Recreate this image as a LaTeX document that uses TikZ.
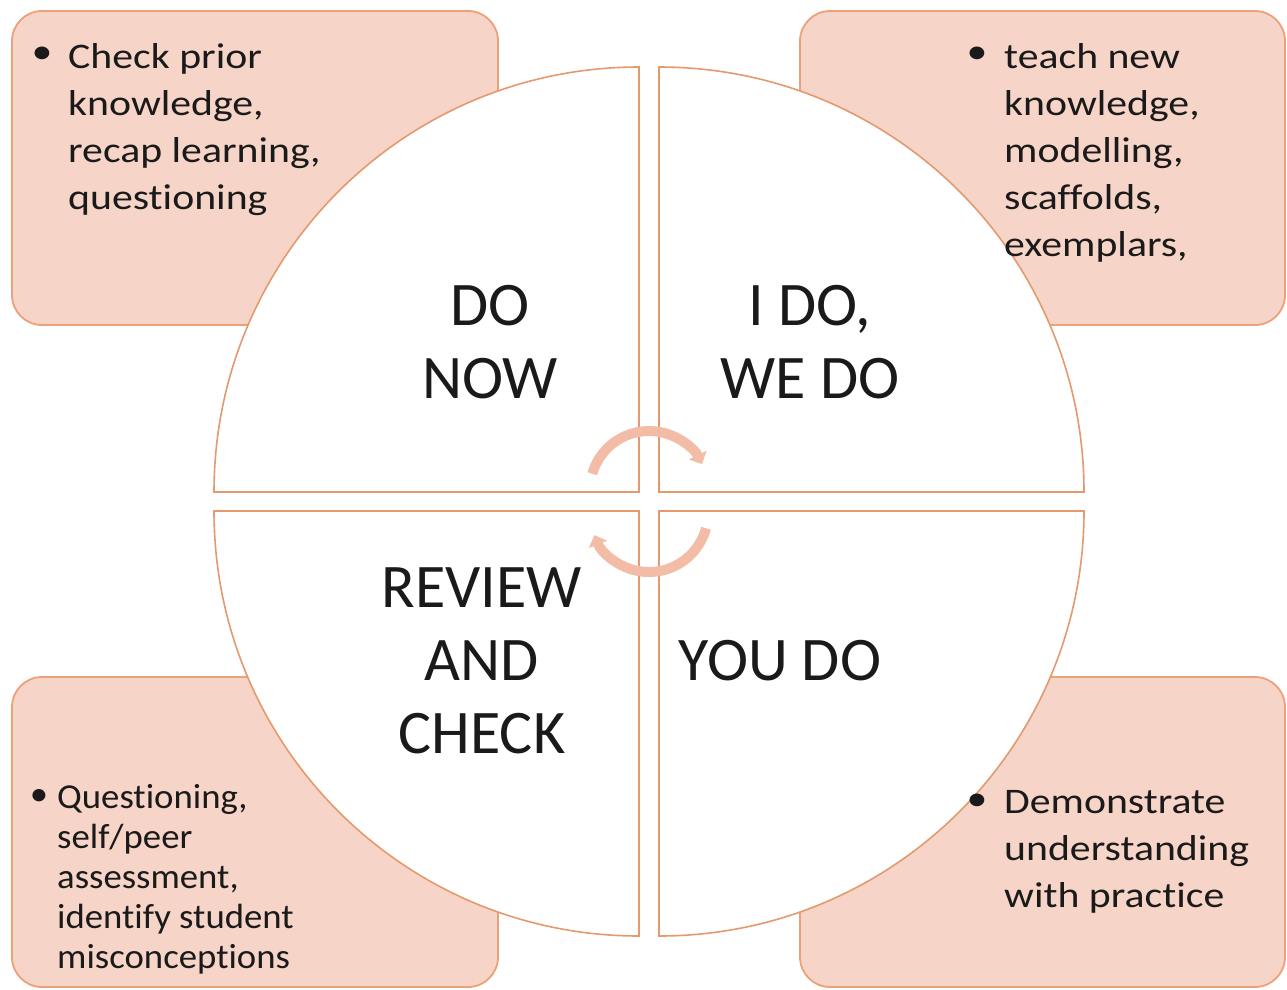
\documentclass[tikz,border=0pt]{standalone}
\usepackage{fontspec}
\setmainfont[Ligatures=NoCommon]{Carlito}
\newfontfamily\boxfont[FakeStretch=1.16, Ligatures=NoCommon]{Carlito}
\newfontfamily\boxfontb[FakeStretch=1.05, Ligatures=NoCommon]{Carlito}
\usetikzlibrary{arrows.meta,calc}
\definecolor{boxfill}{HTML}{F6D4C7}
\definecolor{boxline}{HTML}{EBA27A}
\definecolor{quadline}{HTML}{E39A6E}
\definecolor{arrowcol}{HTML}{F3BCA6}
\definecolor{txt}{HTML}{1A1A1A}
\begin{document}
\begin{tikzpicture}[x=1pt,y=-1pt,
  infobox/.style={draw=boxline, fill=boxfill, line width=1.8pt, rounded corners=30pt},
  quad/.style={draw=quadline, fill=white, line width=1.6pt},
  bigtext/.style={font=\fontsize{62}{73}\selectfont, text=txt, inner sep=0pt, anchor=base},
  smalltext/.style={font=\boxfont\fontsize{36}{47}\selectfont, text=txt, inner sep=0pt, anchor=base west},
  smallertext/.style={font=\boxfontb\fontsize{35}{40}\selectfont, text=txt, inner sep=0pt, anchor=base west},
  bulletmark/.style={inner sep=0pt, anchor=center},
  cyclearrow/.style={draw=arrowcol, line width=10pt, -{Triangle[width=19pt,length=10pt]}}]
\useasboundingbox (0,0) rectangle (1287,989);
\fill[white] (0,0) rectangle (1287,989);
% outer boxes
\draw[infobox] (12,11) rectangle (498,325);
\draw[infobox] (800,11) rectangle (1285,325);
\draw[infobox] (12,677) rectangle (498,987);
\draw[infobox] (800,677) rectangle (1285,987);
% quadrants
\draw[quad] (639,492) -- (214,492) arc[start angle=180, end angle=270, radius=425] -- cycle;
\draw[quad] (659,492) -- (659,67) arc[start angle=270, end angle=360, radius=425] -- cycle;
\draw[quad] (639,511) -- (639,936) arc[start angle=90, end angle=180, radius=425] -- cycle;
\draw[quad] (659,511) -- (1084,511) arc[start angle=0, end angle=90, radius=425] -- cycle;
% cycle arrows
\coordinate (topc) at (649,490);
\coordinate (botc) at (649,513);
\draw[cyclearrow] ($(topc)+(196:59)$) arc[start angle=196, end angle=334, radius=59];
\draw[cyclearrow] ($(botc)+(15:59)$) arc[start angle=15, end angle=158, radius=59];
% big labels
\node[bigtext] (donow) at (490,325) {\parbox[t]{300pt}{\centering DO\\NOW}};
\node[bigtext] (idowedo) at (810,325) {\parbox[t]{300pt}{\centering I DO,\\WE DO}};
\node[bigtext] (review) at (482,607) {\parbox[t]{300pt}{\centering REVIEW\\AND\\CHECK}};
\node[bigtext] (youdo) at (780,680) {YOU DO};
% box texts
\node[smalltext, bulletmark] (b1) at (42,55) {•};
\node[smalltext] (t1) at (68,68) {\parbox[t]{400pt}{\raggedright Check prior\\knowledge,\\recap learning,\\questioning}};
\node[smalltext, bulletmark] (b2) at (977,55) {•};
\node[smalltext] (t2) at (1004,68) {\parbox[t]{400pt}{\raggedright teach new\\knowledge,\\modelling,\\scaffolds,\\exemplars,}};
\node[smallertext, bulletmark] (b3) at (39,797) {•};
\node[smallertext] (t3) at (57,808) {\parbox[t]{400pt}{\raggedright Questioning,\\self/peer\\assessment,\\identify student\\misconceptions}};
\node[smalltext, bulletmark] (b4) at (977,802) {•};
\node[smalltext] (t4) at (1004,813) {\parbox[t]{400pt}{\raggedright Demonstrate\\understanding\\with practice}};
\end{tikzpicture}
\end{document}
